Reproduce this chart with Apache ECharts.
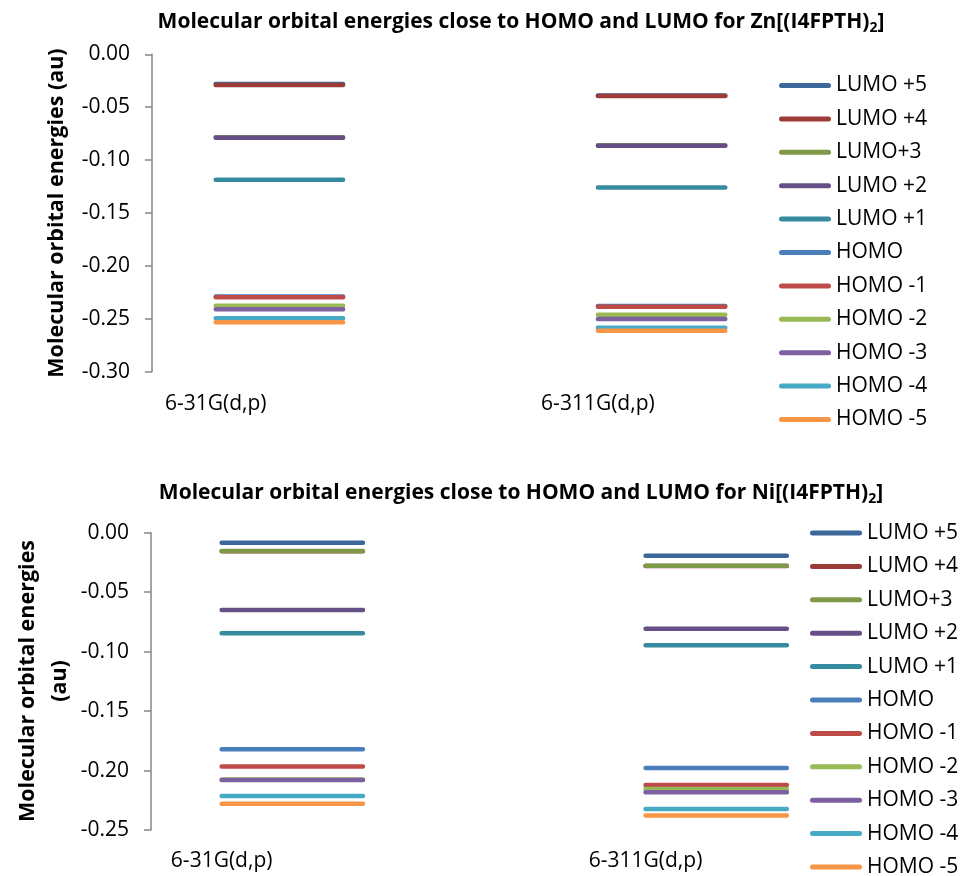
<!DOCTYPE html>
<html><head><meta charset="utf-8">
<script src="https://cdn.jsdelivr.net/npm/echarts@6/dist/echarts.min.js"></script>
<style>html,body{margin:0;padding:0;background:#fff}#c{width:964px;height:876px}</style>
</head><body><div id="c"></div>
<script>
// ---- data ----
const basisSets = ['6-31G(d,p)', '6-311G(d,p)'];
const orbitals = ['LUMO +5', 'LUMO +4', 'LUMO+3', 'LUMO +2', 'LUMO +1', 'HOMO', 'HOMO -1', 'HOMO -2', 'HOMO -3', 'HOMO -4', 'HOMO -5'];
// Zn complex energies (au)
const zn_631G  = [-0.0280, -0.0290, -0.0785, -0.0788, -0.1185, -0.2290, -0.2297, -0.2376, -0.2410, -0.2495, -0.2533];
const zn_6311G = [-0.0390, -0.0394, -0.0860, -0.0864, -0.1260, -0.2380, -0.2385, -0.2461, -0.2502, -0.2584, -0.2612];
// Ni complex energies (au)
const ni_631G  = [-0.0084, -0.0155, -0.0154, -0.0650, -0.0846, -0.1822, -0.1965, -0.2075, -0.2080, -0.2214, -0.2280];
const ni_6311G = [-0.0193, -0.0279, -0.0278, -0.0807, -0.0947, -0.1978, -0.2122, -0.2156, -0.2182, -0.2324, -0.2378];
const yTicksZn = {min: -0.30, max: 0, step: 0.05};
const yTicksNi = {min: -0.25, max: 0, step: 0.05};

const colors = ['#3B679A','#9C3C39','#7E9A48','#654F86','#378B9F','#4A7EBB','#BE4B48','#98B954','#7D60A0','#46AAC5','#F79646'];
const FF = '"Open Sans", "Liberation Sans", sans-serif';
const capsule = 'path://M2.5,0 H49.5 A2.5,2.5 0 0 1 49.5,5 H2.5 A2.5,2.5 0 0 1 2.5,0 Z';

const panels = [
  {a: zn_631G, b: zn_6311G, y: yTicksZn,
   gl: 152, gt: 54.3, gw: 637, gh: 317.4, xm: 22, lx: 779, ly: 75,
   tx: 521, ty: 22, title: 'Molecular orbital energies close to HOMO and LUMO for Zn[(I4FPTH)',
   nx: 57, ny: 213, yname: 'Molecular orbital energies (au)'},
  {a: ni_631G, b: ni_6311G, y: yTicksNi,
   gl: 151, gt: 532.7, gw: 706.5, gh: 297.3, xm: 21, lx: 810, ly: 522.5,
   tx: 521, ty: 493, title: 'Molecular orbital energies close to HOMO and LUMO for Ni[(I4FPTH)',
   nx: 44, ny: 681, yname: 'Molecular orbital energies\n(au)'}
];

const chart = echarts.init(document.getElementById('c'), null, {renderer: 'canvas'});
const xCats = [basisSets[0], ' ', '  ', basisSets[1], '   '];
const option = {animation: false, color: colors, grid: [], xAxis: [], yAxis: [], legend: [], graphic: [], series: []};
panels.forEach((cfg, k) => {
  option.grid.push({left: cfg.gl, top: cfg.gt, width: cfg.gw, height: cfg.gh, containLabel: false});
  option.xAxis.push({type: 'category', gridIndex: k, data: xCats, boundaryGap: true,
    axisLine: {show: false}, axisTick: {show: false},
    axisLabel: {interval: 0, fontFamily: FF, fontSize: 21, color: '#000', margin: cfg.xm}});
  option.yAxis.push({type: 'value', gridIndex: k, min: cfg.y.min, max: cfg.y.max, interval: cfg.y.step,
    splitLine: {show: false},
    axisLine: {show: true, lineStyle: {color: '#868686', width: 1.5}},
    axisTick: {show: true, length: 7, lineStyle: {color: '#868686', width: 1.5}},
    axisLabel: {fontFamily: FF, fontSize: 21, color: '#000', margin: 22,
      formatter: v => v.toFixed(2)}});
  option.legend.push({orient: 'vertical', left: cfg.lx, top: cfg.ly, padding: 0, icon: capsule,
    itemWidth: 52, itemHeight: 5, itemGap: 12.4, selectedMode: false, height: 600,
    textStyle: {fontFamily: FF, fontSize: 21, color: '#000', lineHeight: 20},
    data: orbitals});
  option.graphic.push(
    {type: 'text', x: cfg.tx, y: cfg.ty, silent: true, style: {
      text: '{t|' + cfg.title + '}{s|2}{t|]}', align: 'center', verticalAlign: 'middle',
      rich: {t: {fontFamily: FF, fontSize: 21, fontWeight: 'bold', fill: '#000', lineHeight: 28, verticalAlign: 'middle'},
             s: {fontFamily: FF, fontSize: 14, fontWeight: 'bold', fill: '#000', lineHeight: 28, padding: [12, 0, 0, 0], verticalAlign: 'middle'}}}},
    {type: 'text', x: cfg.nx, y: cfg.ny, rotation: Math.PI / 2, silent: true, style: {
      text: cfg.yname, align: 'center', verticalAlign: 'middle',
      fontFamily: FF, fontSize: 21.5, fontWeight: 'bold', fill: '#000', lineHeight: 32}});
  orbitals.forEach((name, i) => option.series.push({
    name, type: 'line', symbol: 'none', silent: true, xAxisIndex: k, yAxisIndex: k,
    lineStyle: {width: 4.5, cap: 'round', color: colors[i]},
    itemStyle: {color: colors[i]},
    data: [cfg.a[i], cfg.a[i], null, cfg.b[i], cfg.b[i]],
    connectNulls: false
  }));
});
chart.setOption(option);
</script></body></html>
